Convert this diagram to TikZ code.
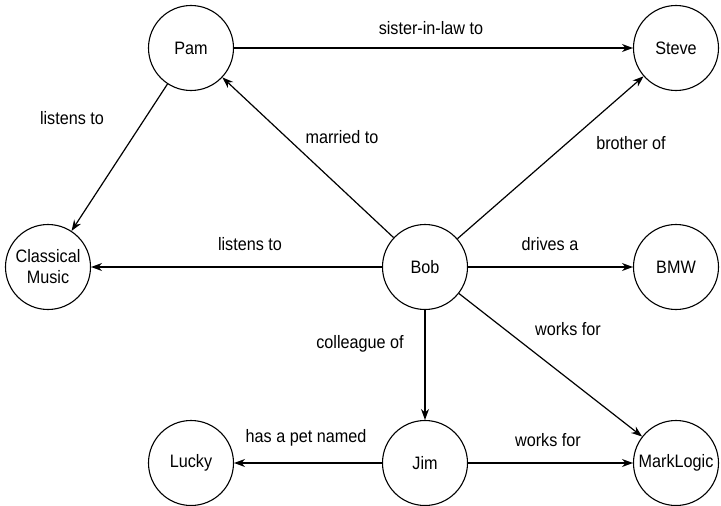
\documentclass[tikz,border=0pt]{standalone}
\usepackage{fontspec}
\setmainfont{Liberation Sans}[FakeStretch=0.9]
\usetikzlibrary{arrows.meta,positioning}

\tikzset{
  thing/.style={draw,circle,line width=1.1pt,minimum size=85pt,inner sep=0pt,
    font=\fontsize{18}{21}\selectfont,align=center},
  rel/.style={-{Stealth[length=11pt,width=8pt]},line width=1.2pt},
  lbl/.style={font=\fontsize{18}{21}\selectfont}
}

\begin{document}
\begin{tikzpicture}[x=1pt,y=-1pt]
  \useasboundingbox (0,0) rectangle (721,506);
  % things
  \node[thing] (pam)     at (191,48)  {Pam};
  \node[thing] (steve)   at (676,48)  {Steve};
  \node[thing] (music)   at (48,267)  {Classical\\Music};
  \node[thing] (bob)     at (425,267) {Bob};
  \node[thing] (bmw)     at (676,267) {BMW};
  \node[thing] (lucky)   at (191,463) {Lucky};
  \node[thing] (jim)     at (425,463) {Jim};
  \node[thing] (mlogic)  at (676,463) {MarkLogic};
  % relations
  \draw[rel] (pam) -- (steve);
  \draw[rel] (pam) -- (music);
  \draw[rel] (bob) -- (pam);
  \draw[rel] (bob) -- (steve);
  \draw[rel] (bob) -- (music);
  \draw[rel] (bob) -- (bmw);
  \draw[rel] (bob) -- (mlogic);
  \draw[rel] (bob) -- (jim);
  \draw[rel] (jim) -- (lucky);
  \draw[rel] (jim) -- (mlogic);
  % labels
  \node[lbl] (lsister)  at (431,28)  {sister-in-law to};
  \node[lbl] (lpamlis)  at (72,118)  {listens to};
  \node[lbl] (lmarried) at (342,137) {married to};
  \node[lbl] (lbrother) at (631,143) {brother of};
  \node[lbl] (lboblis)  at (250,244) {listens to};
  \node[lbl] (ldrives)  at (550,244) {drives a};
  \node[lbl] (lworks)   at (568,329) {works for};
  \node[lbl] (lcolleag) at (360,344) {colleague of};
  \node[lbl] (lpet)     at (306,438) {has a pet named};
  \node[lbl] (ljimwork) at (548,440) {works for};
\end{tikzpicture}
\end{document}
